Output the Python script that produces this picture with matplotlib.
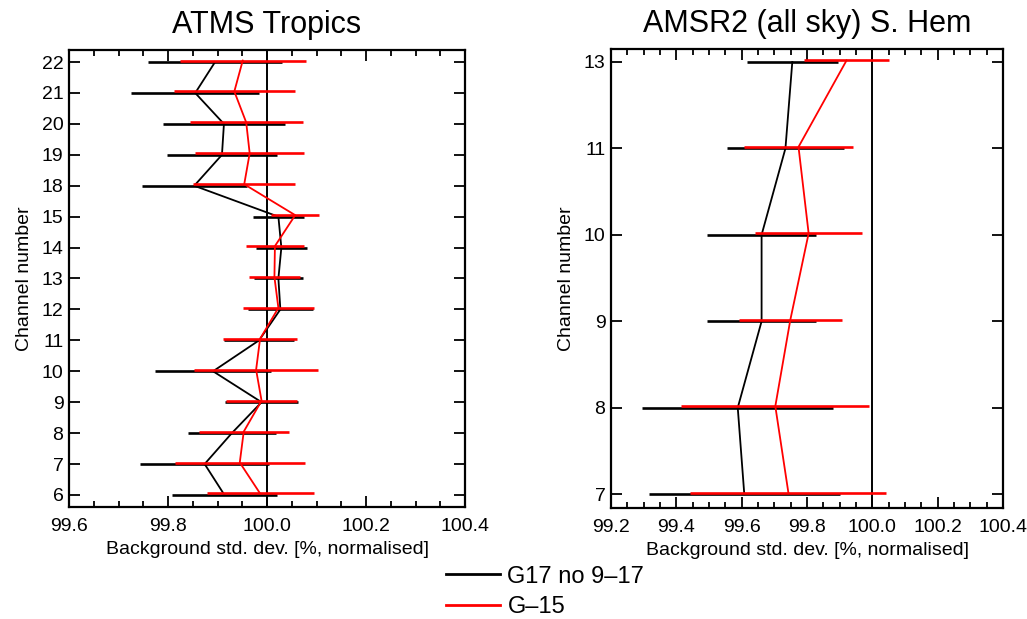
import matplotlib
matplotlib.use("Agg")
import matplotlib.pyplot as plt
from matplotlib.ticker import MultipleLocator, FixedLocator
from matplotlib.lines import Line2D
import matplotlib.transforms as mtransforms
import numpy as np

plt.rcParams['font.family'] = ['Liberation Sans', 'DejaVu Sans']

# ---------------- data ----------------
atms_channels = ['6', '7', '8', '9', '10', '11', '12', '13', '14', '15', '18', '19', '20', '21', '22']
atms_g17 = [99.914, 99.874, 99.929, 99.989, 99.891, 99.984, 100.027, 100.023, 100.029, 100.023,
            99.853, 99.909, 99.913, 99.855, 99.895]
atms_g17_err = [0.106, 0.130, 0.089, 0.073, 0.118, 0.070, 0.065, 0.050, 0.051, 0.051,
                0.106, 0.112, 0.123, 0.129, 0.136]
atms_g15 = [99.986, 99.945, 99.953, 99.989, 99.978, 99.986, 100.023, 100.015, 100.016, 100.057,
            99.954, 99.965, 99.958, 99.934, 99.951]
atms_g15_err = [0.108, 0.131, 0.091, 0.072, 0.125, 0.074, 0.071, 0.052, 0.058, 0.048,
                0.103, 0.110, 0.114, 0.122, 0.127]

amsr_channels = ['7', '8', '9', '10', '11', '13']
amsr_g17 = [99.608, 99.588, 99.661, 99.661, 99.734, 99.755]
amsr_g17_err = [0.292, 0.292, 0.166, 0.166, 0.178, 0.140]
amsr_g15 = [99.743, 99.703, 99.749, 99.805, 99.774, 99.921]
amsr_g15_err = [0.300, 0.288, 0.157, 0.163, 0.166, 0.130]

series_labels = ['G17 no 9\u201317', 'G\u201315']
series_colors = ['black', '#ff0000']

titles = ['ATMS Tropics', 'AMSR2 (all sky) S. Hem']
xlabel = 'Background std. dev. [%, normalised]'
ylabel = 'Channel number'

# ---------------- figure ----------------
fig = plt.figure(figsize=(10.27, 6.19), dpi=100)
ax1 = fig.add_axes([69/1027, 1-507/619, 396/1027, 457/619])
ax2 = fig.add_axes([611/1027, 1-508/619, 392/1027, 459/619])


def draw(ax, cats, s17, e17, s15, e15, xlim, ylim, title):
    y = np.arange(len(cats))
    ax.axvline(100.0, color='black', lw=1.4, zorder=1)
    off = mtransforms.offset_copy(ax.transData, fig=fig, x=0, y=1.5, units='dots')
    ax.errorbar(s17, y, xerr=e17, fmt='-', color=series_colors[0], lw=1.3,
                elinewidth=1.9, capsize=0, zorder=2)
    ax.errorbar(s15, y, xerr=e15, fmt='-', color=series_colors[1], lw=1.3,
                elinewidth=1.9, capsize=0, zorder=3, transform=off)
    ax.set_xlim(*xlim)
    ax.set_ylim(*ylim)
    ax.yaxis.set_major_locator(FixedLocator(y))
    ax.set_yticklabels(cats)
    ax.xaxis.set_major_locator(MultipleLocator(0.2))
    ax.xaxis.set_minor_locator(MultipleLocator(0.05))
    ax.xaxis.set_major_formatter(matplotlib.ticker.FormatStrFormatter('%.1f'))
    ax.tick_params(which='both', direction='in', top=True, right=True, width=1.3,
                   labelsize=14)
    ax.tick_params(which='major', length=8)
    ax.tick_params(which='minor', length=4)
    ax.tick_params(axis='x', pad=8)
    ax.tick_params(axis='y', pad=4)
    for sp in ax.spines.values():
        sp.set_linewidth(1.6)
    ax.set_xlabel(xlabel, fontsize=14, labelpad=4)
    ax.set_ylabel(ylabel, fontsize=14, labelpad=6)
    ax.set_title(title, fontsize=22, pad=12)


draw(ax1, atms_channels, atms_g17, atms_g17_err, atms_g15, atms_g15_err,
     (99.6, 100.4), (-0.39, 14.39), titles[0])
draw(ax2, amsr_channels, amsr_g17, amsr_g17_err, amsr_g15, amsr_g15_err,
     (99.2, 100.4), (-0.16, 5.15), titles[1])

handles = [Line2D([], [], color=c, lw=2.0) for c in series_colors]
fig.legend(handles, series_labels, loc='center left', bbox_to_anchor=(446/1027, 1-592/619),
           frameon=False, fontsize=17, handlelength=2.3, handletextpad=0.3,
           labelspacing=0.38, borderpad=0, borderaxespad=0)

fig.savefig('out.png', dpi=100)
